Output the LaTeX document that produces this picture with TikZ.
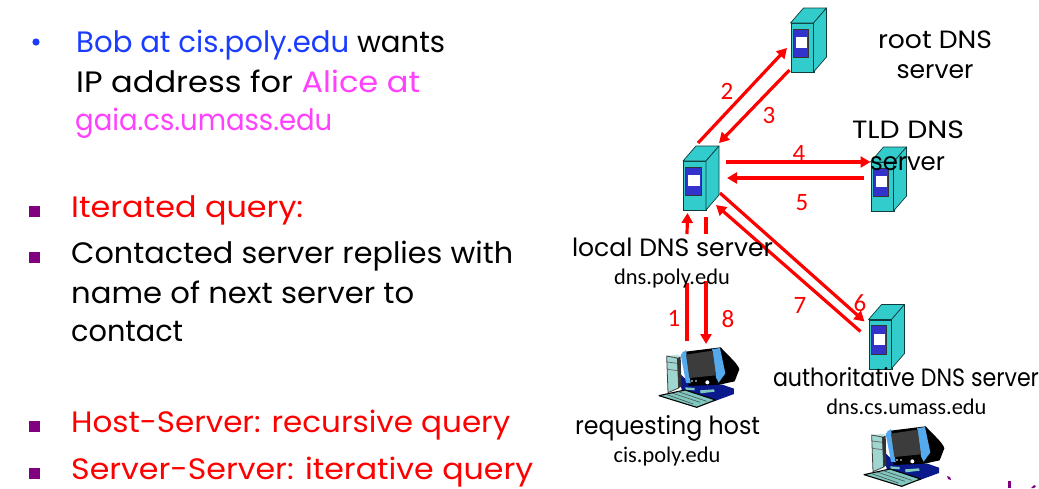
\documentclass[tikz,border=0pt]{standalone}
\usepackage{graphicx}
\usepackage{fontspec}
\usetikzlibrary{arrows.meta}
\setmainfont{Poppins}
\newfontfamily\lblfont{Carlito}
\definecolor{srvteal}{HTML}{33CCCC}
\definecolor{srvblue}{HTML}{3333CC}
\definecolor{bobblue}{HTML}{1A3CFF}
\definecolor{alicepink}{HTML}{FF40FF}
\definecolor{sqpurple}{HTML}{800080}
\definecolor{pcteal}{HTML}{7FC8C0}
\definecolor{pcnavy}{HTML}{0A1A8C}
\definecolor{pcbezel}{HTML}{55AAEE}
\definecolor{pcscreen}{HTML}{3C3C3C}
\newcommand{\fitw}[2]{\resizebox{#1pt}{\height}{#2}}
\tikzset{
  arr/.style={draw=red,line width=3.2pt,-{Triangle[length=10pt,width=11pt]}},
  plainarr/.style={draw=red,line width=3.2pt},
  big/.style={anchor=base west,inner sep=0pt,font=\fontsize{29.5}{29.5}\selectfont},
  mid/.style={anchor=base,inner sep=0pt,font=\fontsize{25}{25}\selectfont},
  small/.style={anchor=base,inner sep=0pt,font=\lblfont\fontsize{22.4}{22.4}\selectfont},
  num/.style={anchor=base,inner sep=0pt,text=red,font=\lblfont\fontsize{25}{25}\selectfont},
  sq/.style={fill=sqpurple,draw=none},
  front/.style={draw=black!70!srvteal,line width=.7pt,fill=srvteal,anchor=north west,inner sep=0pt,minimum width=23pt,minimum height=49pt},
  hostbox/.style={anchor=north west,inner sep=0pt,minimum width=79pt,minimum height=60pt},
}
\newcommand{\serverbox}[3]{%
  \node[front] (#1) at (#2,#3) {};
  \begin{scope}[shift={(#2,#3)}]
    \draw[line width=.7pt,draw=black!70!srvteal,fill=srvteal,line join=round] (0,0) -- (13,-15) -- (36,-15) -- (23,0) -- cycle;
    \draw[line width=.7pt,draw=black!70!srvteal,fill=srvteal,line join=round] (23,0) -- (36,-15) -- (36,34) -- (23,49) -- cycle;
    \draw[line width=.7pt,draw=black!80,fill=srvblue] (2.7,6) rectangle (18,34.5);
    \fill[white] (5.2,14) rectangle (16.5,25);
  \end{scope}}
\newcommand{\computer}[2]{%
  \begin{scope}[shift={(#1,#2)},x=.3333pt,y=-.3333pt]
    % base
    \fill[pcnavy] (80,92) -- (112,122) -- (200,128) -- (252,146) -- (252,162) -- (192,184) -- (96,152) -- cycle;
    % tower
    \fill[pcteal!50!white] (50,48) -- (84,44) -- (92,50) -- (82,54) -- cycle;
    \draw[line width=.8pt,black!75,fill=pcteal!75!white] (50,48) -- (82,54) -- (86,144) -- (54,158) -- cycle;
    \draw[line width=.7pt,black!60] (51,66) -- (83,70) (52,88) -- (84,92);
    \fill[black!80] (82,54) -- (92,50) -- (94,140) -- (86,144) -- cycle;
    % arm
    \draw[line width=3.5pt,pcteal] (226,58) .. controls (266,78) and (266,112) .. (208,130);
    % monitor back
    \fill[black] (98,36) -- (212,22) .. controls (240,52) and (264,72) .. (268,88) -- (254,124) -- (208,134) -- (116,138) -- cycle;
    % bezels
    \fill[pcbezel] (92,44) -- (108,30) -- (122,130) -- (108,128) -- cycle;
    \fill[pcbezel] (186,28) -- (210,24) -- (226,100) -- (206,128) -- (198,112) -- cycle;
    % screen
    \fill[pcscreen] (108,44) -- (188,32) -- (198,106) -- (118,114) -- cycle;
    \fill[white] (126,123) circle (2.5) (138,123) circle (2.5) (172,127) circle (6);
    % stand
    \fill[pcteal] (106,142) -- (134,144) -- (134,151) -- (106,149) -- cycle;
    \fill[pcteal] (150,151) -- (192,148) -- (194,155) -- (152,160) -- cycle;
    % keyboard
    \draw[line width=1.1pt,black,fill=pcteal,line join=round] (27,167) -- (105,150) -- (197,180) -- (140,202) -- cycle;
    \draw[line width=.6pt,black!70] (48,163) -- (130,192) (66,159) -- (150,187) (85,155) -- (170,184);
  \end{scope}}
\begin{document}
\begin{tikzpicture}[x=1pt,y=-1pt]
\useasboundingbox (0,0) rectangle (1039,488);
\fill[white] (0,0) rectangle (1039,488);

% left column
\fill[bobblue] (36,42) circle (3.6);
\node[big] (t1) at (76,52) {\fitw{369}{\textcolor{bobblue}{Bob at cis.poly.edu} wants}};
\node[big] (t2) at (76,92) {\fitw{344}{IP address for \textcolor{alicepink}{Alice at}}};
\node[big,text=alicepink] (t3) at (75,130) {\fitw{257}{gaia.cs.umass.edu}};
\fill[sq] (28.5,205.5) rectangle (39.5,217);
\node[big,text=red] (t4) at (71,217) {\fitw{232}{Iterated query:}};
\fill[sq] (28.5,251.5) rectangle (39.5,263);
\node[big] (t5) at (71,263) {\fitw{442}{Contacted server replies with}};
\node[big] (t6) at (71,303) {\fitw{343}{name of next server to}};
\node[big] (t7) at (71,341) {\fitw{112}{contact}};
\fill[sq] (28.5,420.5) rectangle (39.5,432);
\node[big,text=red] (t8) at (71,432) {\fitw{439}{Host-Server: recursive query}};
\fill[sq] (28.5,467.5) rectangle (39.5,479);
\node[big,text=red] (t9) at (71,479) {\fitw{462}{Server-Server: iterative query}};

% servers
\serverbox{root}{790.5}{23}
\serverbox{local}{683}{161}
\serverbox{tld}{870.5}{162}
\serverbox{auth}{868.5}{319.5}

% computers
\node[hostbox] (host) at (659,348) {};
\computer{650}{340}
\computer{855}{419}

% connector gaps
\coordinate (g1a) at (687,283);
\coordinate (g1b) at (687,234);
\coordinate (g8a) at (706,234);
\coordinate (g8b) at (706,281);

% connectors
\draw[arr] ([shift={(15,-18)}]local.north west) -- ([shift={(-3.5,25)}]root.north west);
\draw[arr] ([shift={(-1,47)}]root.north west) -- ([shift={(36,-18)}]local.north west);
\draw[arr] ([shift={(43,1)}]local.north west) -- ([shift={(0,0)}]tld.north west);
\draw[arr] ([shift={(-7,16)}]tld.north west) -- ([shift={(44,17)}]local.north west);
\draw[arr] ([shift={(37,32)}]local.north west) -- ([shift={(-4,2)}]auth.north west);
\draw[arr] ([shift={(-8,12)}]auth.north west) -- ([shift={(33,44)}]local.north west);
\draw[plainarr] ([shift={(28,-7)}]host.north west) -- (g1a);
\draw[arr] (g1b) -- ([shift={(4.5,52)}]local.north west);
\draw[plainarr] ([shift={(23,56)}]local.north west) -- (g8a);
\draw[arr] (g8b) -- ([shift={(47,-4)}]host.north west);

% labels
\node[mid] (l1) at (935,48) {\fitw{114}{root DNS}};
\node[mid] (l2) at (935,78) {\fitw{77}{server}};
\node[mid] (l3) at (908,138) {\fitw{112}{TLD DNS}};
\node[mid] (l4) at (907.5,170) {\fitw{75}{server}};
\node[mid] (l5) at (672.5,256) {\fitw{201}{local DNS server}};
\node[small] (l6) at (672,284) {dns.poly.edu};
\node[mid] (l7) at (906,386) {\fitw{266}{authoritative DNS server}};
\node[small] (l8) at (906.5,414) {dns.cs.umass.edu};
\node[mid] (l9) at (667.5,434) {\fitw{185}{requesting host}};
\node[small] (l10) at (667,462) {cis.poly.edu};

% numbers
\node[num] (n2) at (727,99) {2};
\node[num] (n3) at (769,123) {3};
\node[num] (n4) at (799,161) {4};
\node[num] (n5) at (802,210) {5};
\node[num] (n1) at (674,326) {1};
\node[num] (n8) at (728,327) {8};
\node[num] (n6) at (860,311) {6};
\node[num] (n7) at (800,313) {7};

% stray marks at the lower edge
\fill[sqpurple] (947,476) -- (950,477) -- (951,480) -- (948,479) -- cycle;
\fill[sqpurple] (1008,481) -- (1011,481) -- (1011,488) -- (1008,488) -- cycle;
\fill[sqpurple] (1031,488) -- (1034,485) -- (1036,486) -- (1034,488) -- cycle;
\end{tikzpicture}
\end{document}
